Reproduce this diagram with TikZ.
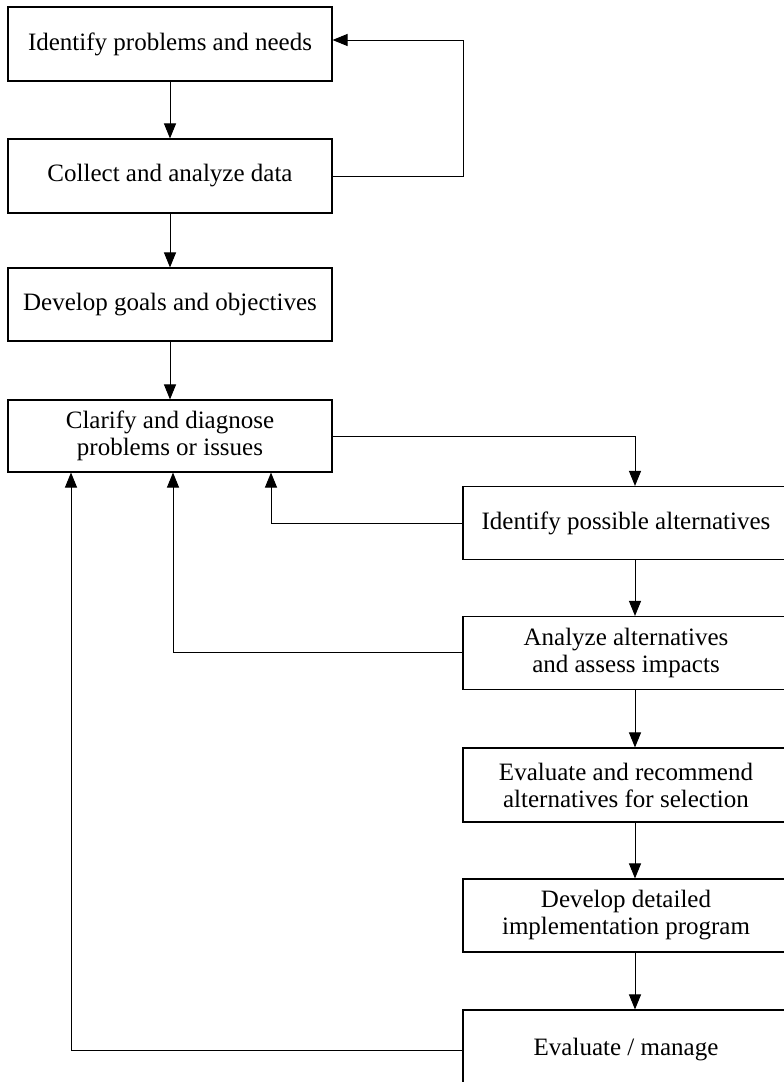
\documentclass[tikz,border=0pt]{standalone}
\usepackage{fontspec}
\setmainfont{Liberation Serif}
\usetikzlibrary{arrows.meta}
\begin{document}
\begin{tikzpicture}[x=1pt,y=-1pt,
  box/.style={draw, line width=1.1pt, inner sep=0pt, align=center,
    font=\fontsize{25}{27}\selectfont},
  lbox/.style={box, minimum width=324pt, minimum height=74pt},
  rbox/.style={box, minimum width=344pt, minimum height=73pt},
  conn/.style={line width=1pt, -{Triangle[length=15pt,width=12pt]}}]
\useasboundingbox (0,0) rectangle (784,1082);
\begin{scope}
\clip (0,0) rectangle (784,1082);
\node[lbox] (b1) at (170,44) {Identify problems and needs};
\node[lbox] (b2) at (170,176) {Collect and analyze data};
\node[lbox, minimum height=73pt] (b3) at (170,304.5) {Develop goals and objectives};
\node[lbox, minimum height=72pt] (b4) at (170,436) {Clarify and diagnose\\problems or issues};
\node[rbox] (b5) at (635,523) {\hspace*{-18pt}Identify possible alternatives};
\node[rbox] (b6) at (635,653) {\hspace*{-18pt}\parbox{300pt}{\centering Analyze alternatives\\and assess impacts}};
\node[rbox, minimum height=74pt] (b7) at (635,785) {\hspace*{-18pt}\parbox{300pt}{\centering Evaluate and recommend\\alternatives for selection}};
\node[rbox] (b8) at (635,915.5) {\hspace*{-18pt}\parbox{300pt}{\centering Develop detailed\\implementation program}};
\node[rbox, minimum height=80pt] (b9) at (635,1050) {\hspace*{-18pt}\raisebox{-5pt}{Evaluate / manage}};

\draw[conn] (b1.south) -- (b2.north);
\draw[conn] (b2.south) -- (b3.north);
\draw[conn] (b3.south) -- (b4.north);
\draw[conn] (b2.east) -- ++(131,0) |- ([yshift=4pt]b1.east);
\draw[conn] (b4.east) -| (b5.north);
\draw[conn] (b5.south) -- (b6.north);
\draw[conn] (b6.south) -- (b7.north);
\draw[conn] (b7.south) -- (b8.north);
\draw[conn] (b8.south) -- (b9.north);
\draw[conn] (b5.west) -| ([xshift=101pt]b4.south);
\draw[conn] ([yshift=1pt]b6.west) -| ([xshift=3pt]b4.south);
\draw[conn] (b9.west) -| ([xshift=-99pt]b4.south);
\end{scope}
\end{tikzpicture}
\end{document}
